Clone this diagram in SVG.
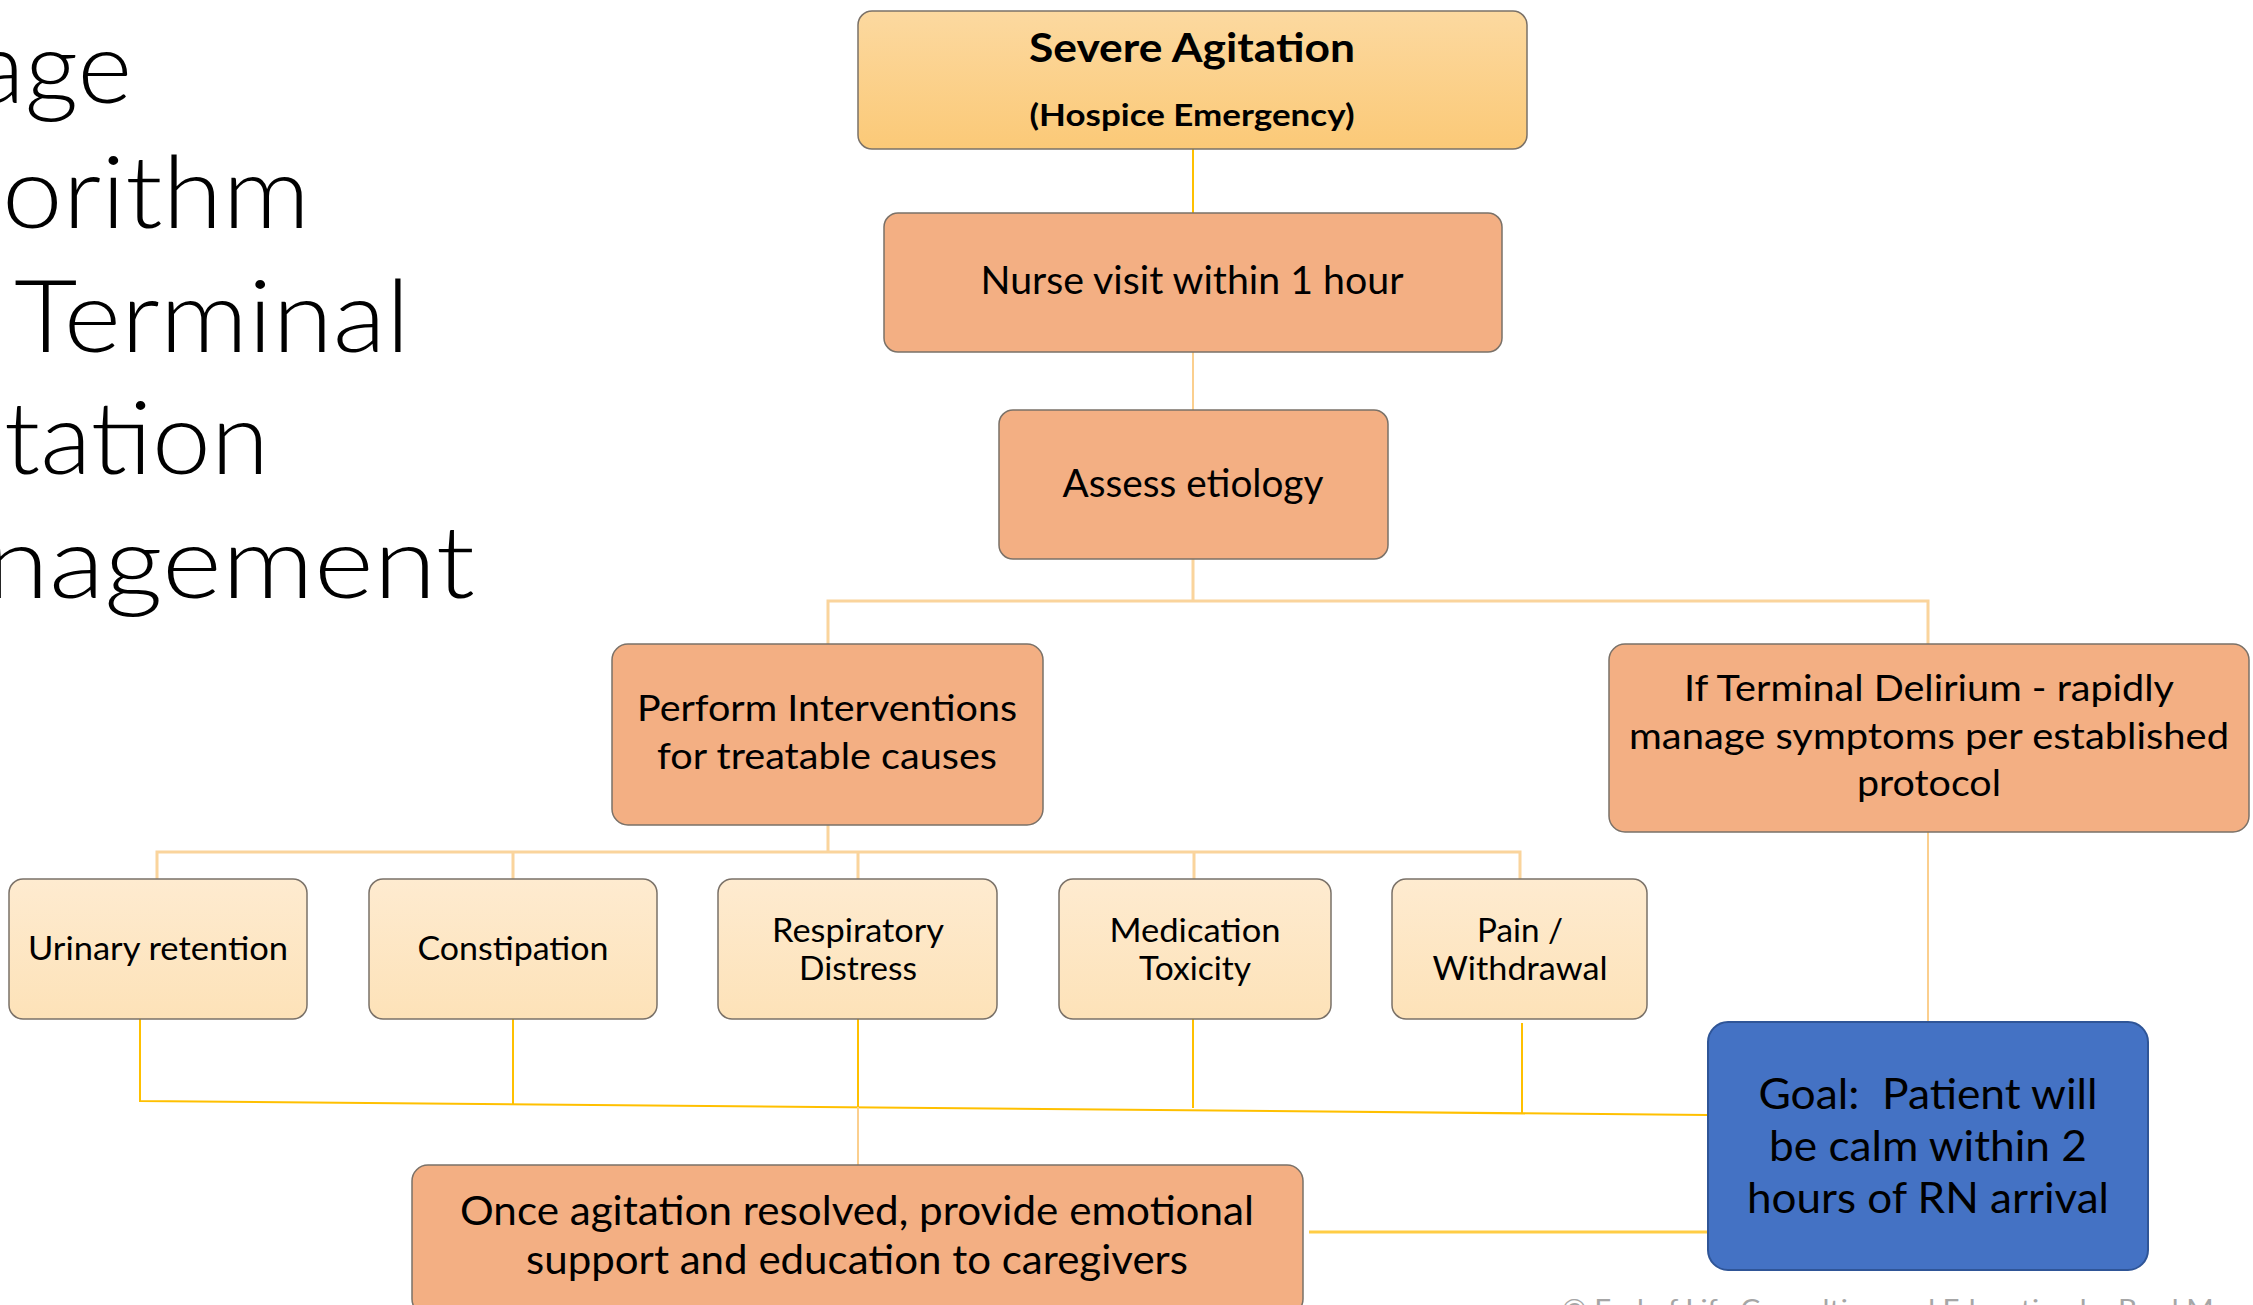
<svg xmlns="http://www.w3.org/2000/svg" width="2253" height="1305" viewBox="0 0 2253 1305">
<defs>
<linearGradient id="gTop" x1="0" y1="0" x2="0" y2="1">
<stop offset="0" stop-color="#FCD9A0"/>
<stop offset="1" stop-color="#FBC977"/>
</linearGradient>
<linearGradient id="gSmall" x1="0" y1="0" x2="0" y2="1">
<stop offset="0" stop-color="#FEEBD0"/>
<stop offset="1" stop-color="#FDE2B8"/>
</linearGradient>
<style>
.box{stroke:#7A7168;stroke-width:1.5}
.top{fill:url(#gTop)}
.orange{fill:#F3AF83}
.small{fill:url(#gSmall)}
.goal{fill:#4472C4;stroke:#2F5597;stroke-width:2}
text{font-family:Lato,"Open Sans","Liberation Sans",sans-serif;fill:#000;text-anchor:middle;white-space:pre}
.title{font-size:100px;text-anchor:start;font-weight:300}
.b{font-weight:bold}
.c1{stroke:#FFC000;stroke-width:2;fill:none}
.c2{stroke:#FBCF8E;stroke-width:2;fill:none}
.c3{stroke:#FAD49C;stroke-width:3;fill:none}
.c4{stroke:#FFCD45;stroke-width:3;fill:none}
.foot{font-size:26px;fill:#A6A6A6;text-anchor:start}
</style>
</defs>
<rect width="2253" height="1305" fill="#FFFFFF"/>

<g id="title">
<text class="title" x="-26" y="103" textLength="158" lengthAdjust="spacingAndGlyphs">age</text>
<text class="title" x="2" y="228" textLength="308" lengthAdjust="spacingAndGlyphs">orithm</text>
<text class="title" x="14" y="352" textLength="396" lengthAdjust="spacingAndGlyphs">Terminal</text>
<text class="title" x="4" y="474" textLength="265" lengthAdjust="spacingAndGlyphs">tation</text>
<text class="title" x="-14" y="598" textLength="489" lengthAdjust="spacingAndGlyphs">nagement</text>
</g>

<g id="connectors">
<line class="c1" x1="1193" y1="149" x2="1193" y2="213"/>
<line class="c2" x1="1193" y1="352" x2="1193" y2="410"/>
<path class="c3" d="M1193,559 V601 M828,644 V601 H1928 V644"/>
<path class="c3" d="M828,825 V852 M157,879 V852 H1520 V879 M513,852 V879 M858,852 V879 M1194,852 V879"/>
<line class="c2" x1="1928" y1="832" x2="1928" y2="1022"/>
<path class="c1" d="M140,1019 V1101 L1708,1115"/>
<line class="c1" x1="513" y1="1010" x2="513" y2="1104"/>
<line class="c1" x1="858" y1="1019" x2="858" y2="1107"/>
<line class="c2" x1="858" y1="1107" x2="858" y2="1165"/>
<line class="c1" x1="1193" y1="1015" x2="1193" y2="1108"/>
<line class="c1" x1="1522" y1="1023" x2="1522" y2="1114"/>
<line class="c4" x1="1309" y1="1232" x2="1708" y2="1232"/>
</g>

<g id="severe">
<rect class="box top" x="858" y="11" width="669" height="138" rx="14"/>
<text class="b" x="1192" y="62" font-size="40" textLength="326" lengthAdjust="spacingAndGlyphs">Severe Agitation</text>
<text class="b" x="1192" y="126" font-size="31" textLength="325" lengthAdjust="spacingAndGlyphs">(Hospice Emergency)</text>
</g>

<g id="nurse">
<rect class="box orange" x="884" y="213" width="618" height="139" rx="14"/>
<text x="1192" y="294" font-size="38" textLength="423" lengthAdjust="spacingAndGlyphs">Nurse visit within 1 hour</text>
</g>

<g id="assess">
<rect class="box orange" x="999" y="410" width="389" height="149" rx="14"/>
<text x="1193" y="497" font-size="38" textLength="261" lengthAdjust="spacingAndGlyphs">Assess etiology</text>
</g>

<g id="perform">
<rect class="box orange" x="612" y="644" width="431" height="181" rx="16"/>
<text x="827" y="721" font-size="36" textLength="380" lengthAdjust="spacingAndGlyphs">Perform Interventions</text>
<text x="827" y="769" font-size="36" textLength="340" lengthAdjust="spacingAndGlyphs">for treatable causes</text>
</g>

<g id="terminal">
<rect class="box orange" x="1609" y="644" width="640" height="188" rx="16"/>
<text x="1929" y="701" font-size="36" textLength="490" lengthAdjust="spacingAndGlyphs">If Terminal Delirium - rapidly</text>
<text x="1929" y="749" font-size="36" textLength="600" lengthAdjust="spacingAndGlyphs">manage symptoms per established</text>
<text x="1929" y="796" font-size="36" textLength="144" lengthAdjust="spacingAndGlyphs">protocol</text>
</g>

<g id="urinary">
<rect class="box small" x="9" y="879" width="298" height="140" rx="14"/>
<text x="158" y="960" font-size="33" textLength="260" lengthAdjust="spacingAndGlyphs">Urinary retention</text>
</g>

<g id="constipation">
<rect class="box small" x="369" y="879" width="288" height="140" rx="14"/>
<text x="513" y="960" font-size="33" textLength="191" lengthAdjust="spacingAndGlyphs">Constipation</text>
</g>

<g id="respiratory">
<rect class="box small" x="718" y="879" width="279" height="140" rx="14"/>
<text x="858" y="942" font-size="33" textLength="172" lengthAdjust="spacingAndGlyphs">Respiratory</text>
<text x="858" y="980" font-size="33" textLength="118" lengthAdjust="spacingAndGlyphs">Distress</text>
</g>

<g id="medication">
<rect class="box small" x="1059" y="879" width="272" height="140" rx="14"/>
<text x="1195" y="942" font-size="33" textLength="171" lengthAdjust="spacingAndGlyphs">Medication</text>
<text x="1195" y="980" font-size="33" textLength="112" lengthAdjust="spacingAndGlyphs">Toxicity</text>
</g>

<g id="pain">
<rect class="box small" x="1392" y="879" width="255" height="140" rx="14"/>
<text x="1520" y="942" font-size="33" textLength="86" lengthAdjust="spacingAndGlyphs">Pain /</text>
<text x="1520" y="980" font-size="33" textLength="175" lengthAdjust="spacingAndGlyphs">Withdrawal</text>
</g>

<g id="goal">
<rect class="goal" x="1708" y="1022" width="440" height="248" rx="20"/>
<text x="1928" y="1109" font-size="43" textLength="339" lengthAdjust="spacingAndGlyphs">Goal:  Patient will</text>
<text x="1928" y="1161" font-size="43" textLength="318" lengthAdjust="spacingAndGlyphs">be calm within 2</text>
<text x="1928" y="1213" font-size="43" textLength="362" lengthAdjust="spacingAndGlyphs">hours of RN arrival</text>
</g>

<g id="once">
<rect class="box orange" x="412" y="1165" width="891" height="150" rx="16"/>
<text x="857" y="1225" font-size="41" textLength="794" lengthAdjust="spacingAndGlyphs">Once agitation resolved, provide emotional</text>
<text x="857" y="1274" font-size="41" textLength="662" lengthAdjust="spacingAndGlyphs">support and education to caregivers</text>
</g>

<text class="foot" x="1562" y="1319" textLength="680" lengthAdjust="spacingAndGlyphs">© End of Life Consulting and Education by Brad Mac</text>
</svg>
